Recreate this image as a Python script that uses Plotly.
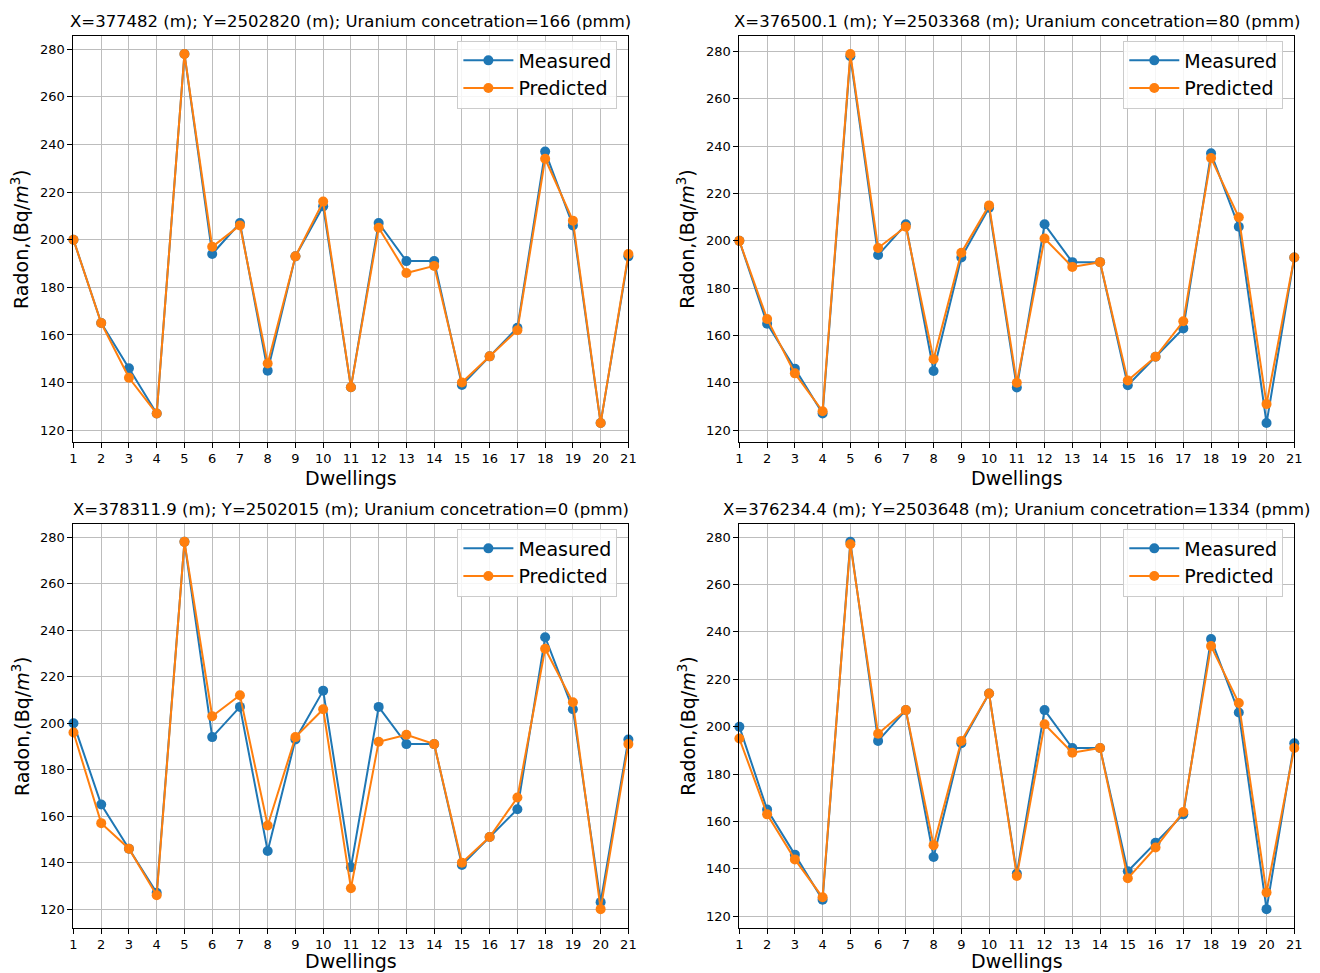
import plotly.graph_objects as go

dwellings = list(range(1, 22))
measured = [200, 165, 146, 127, 278, 194, 207, 145, 193, 214, 138,
            207, 191, 191, 139, 151, 163, 237, 206, 123, 193]
predicted_1 = [200, 165, 142, 127, 278, 197, 206, 148, 193, 216, 138,
               205, 186, 189, 140, 151, 162, 234, 208, 123, 194]
predicted_2 = [200, 167, 144, 128, 279, 197, 206, 150, 195, 215, 140,
               201, 189, 191, 141, 151, 166, 235, 210, 131, 193]
predicted_3 = [196, 157, 146, 126, 278, 203, 212, 156, 194, 206, 129,
               192, 195, 191, 140, 151, 168, 232, 209, 120, 191]
predicted_4 = [195, 163, 144, 128, 277, 197, 207, 150, 194, 214, 137,
               201, 189, 191, 136, 149, 164, 234, 210, 130, 191]
predicted_sets = [predicted_1, predicted_2, predicted_3, predicted_4]
titles = [
    "X=377482 (m); Y=2502820 (m); Uranium concetration=166 (pmm)",
    "X=376500.1 (m); Y=2503368 (m); Uranium concetration=80 (pmm)",
    "X=378311.9 (m); Y=2502015 (m); Uranium concetration=0 (pmm)",
    "X=376234.4 (m); Y=2503648 (m); Uranium concetration=1334 (pmm)",
]
x_ticks = list(range(1, 22))
y_ticks = list(range(120, 281, 20))

OFF = 8  # page body margin
W, H = 1320 - OFF, 973 - OFF
BLUE = "#1f77b4"
ORANGE = "#ff7f0e"
FONT = "DejaVu Sans"


def fx(px):
    page = (px - 3.6) / 0.991
    return (page - OFF) / W


def fy(py):
    return 1 - (py + 1.5 - OFF) / H


col_px = [(73, 628), (739, 1294)]
row_px = [(34, 440), (522, 926)]
xlabel_gap = [36, 33]

fig = go.Figure()
layout = dict(
    width=W, height=H,
    margin=dict(l=0, r=0, t=0, b=0),
    paper_bgcolor="white", plot_bgcolor="white",
    font=dict(family=FONT, color="black"),
    annotations=[],
)

for i in range(4):
    r, c = divmod(i, 2)
    x0, x1 = col_px[c]
    y0, y1 = row_px[r]
    suffix = "" if i == 0 else str(i + 1)
    xa, ya = "x" + suffix, "y" + suffix
    leg = "legend" + suffix
    pred = predicted_sets[i]

    fig.add_trace(go.Scatter(
        x=dwellings, y=measured, mode="lines+markers", name="Measured",
        line=dict(color=BLUE, width=2), marker=dict(color=BLUE, size=10),
        xaxis=xa, yaxis=ya, legend=leg, cliponaxis=False))
    fig.add_trace(go.Scatter(
        x=dwellings, y=pred, mode="lines+markers", name="Predicted",
        line=dict(color=ORANGE, width=2), marker=dict(color=ORANGE, size=10),
        xaxis=xa, yaxis=ya, legend=leg, cliponaxis=False))

    lo = min(min(measured), min(pred))
    hi = max(max(measured), max(pred))
    pad = (hi - lo) * 0.05

    common = dict(
        showline=True, linecolor="black", linewidth=1, mirror=True,
        ticks="outside", ticklen=5, tickwidth=1, tickcolor="black",
        showgrid=True, gridcolor="#bdbdbd", gridwidth=1,
        zeroline=False, tickfont=dict(family=FONT, size=13, color="black"),
    )
    layout["xaxis" + suffix] = dict(
        common, domain=[fx(x0), fx(x1)], anchor=ya, range=[1, 21],
        tickmode="array", tickvals=x_ticks, ticktext=[str(t) for t in x_ticks])
    layout["yaxis" + suffix] = dict(
        common, domain=[fy(y1), fy(y0)], anchor=xa,
        range=[lo - pad, hi + pad],
        tickmode="array", tickvals=y_ticks, ticktext=[str(t) for t in y_ticks])

    layout[leg] = dict(
        x=fx(x1 - 11), xanchor="right", y=fy(y0 + 5), yanchor="top",
        bgcolor="rgba(255,255,255,0.85)", bordercolor="#cccccc", borderwidth=1,
        font=dict(family=FONT, size=19, color="black"), itemwidth=50,
        tracegroupgap=0)

    cx = fx((x0 + x1) / 2)
    layout["annotations"].append(dict(
        text=titles[i], x=cx, y=fy(y0 - 14), xref="paper", yref="paper",
        xanchor="center", yanchor="middle", showarrow=False,
        font=dict(family=FONT, size=16.5, color="black")))
    layout["annotations"].append(dict(
        text="Dwellings", x=cx, y=fy(y1 + xlabel_gap[r]), xref="paper",
        yref="paper", xanchor="center", yanchor="middle", showarrow=False,
        font=dict(family=FONT, size=19, color="black")))
    layout["annotations"].append(dict(
        text="Radon,(Bq/<i>m</i><sup>3</sup>)", x=fx(x0 - 53),
        y=fy((y0 + y1) / 2), xref="paper", yref="paper",
        xanchor="center", yanchor="middle", showarrow=False, textangle=-90,
        font=dict(family=FONT, size=19, color="black")))

fig.update_layout(**layout)
fig.write_html("out.html")
